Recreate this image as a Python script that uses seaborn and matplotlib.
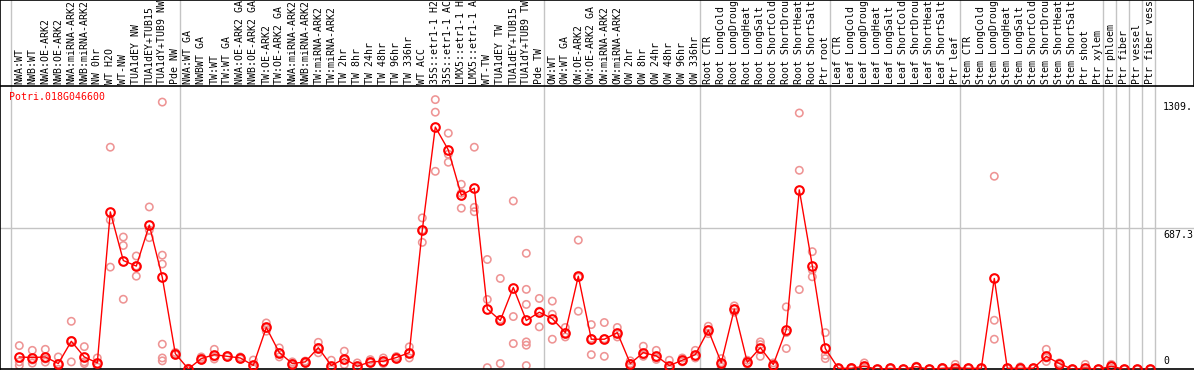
import numpy as np
import pandas as pd
import matplotlib
matplotlib.use("Agg")
import matplotlib.pyplot as plt
import seaborn as sns

gene = "Potri.018G046600"

categories = [
    "NWA:WT", "NWB:WT", "NWA:OE-ARK2", "NWB:OE-ARK2", "NWA:miRNA-ARK2", "NWB:miRNA-ARK2",
    "NW 0hr", "WT H2O", "WT-NW", "TUA1dEY NW", "TUA1dEY+TUB15", "TUA1dY+TUB9 NW", "Pde NW",
    "NWA:WT GA", "NWBWT GA", "TW:WT", "TW:WT GA", "NWA:OE-ARK2 GA", "NWB:OE-ARK2 GA",
    "TW:OE-ARK2", "TW:OE-ARK2 GA", "NWA:miRNA-ARK2", "NWB:miRNA-ARK2", "TW:miRNA-ARK2",
    "TW:miRNA-ARK2", "TW 2hr", "TW 8hr", "TW 24hr", "TW 48hr", "TW 96hr", "TW 336hr",
    "WT ACC", "35S::etr1-1 H2", "35S::etr1-1 AC", "LMX5::etr1-1 H", "LMX5::etr1-1 A",
    "WT-TW", "TUA1dEY TW", "TUA1dEY+TUB15", "TUA1dY+TUB9 TW", "Pde TW",
    "OW:WT", "OW:WT GA", "OW:OE-ARK2", "OW:OE-ARK2 GA", "OW:miRNA-ARK2", "OW:miRNA-ARK2",
    "OW 2hr", "OW 8hr", "OW 24hr", "OW 48hr", "OW 96hr", "OW 336hr",
    "Root CTR", "Root LongCold", "Root LongDroug", "Root LongHeat", "Root LongSalt",
    "Root ShortCold", "Root ShortDrou", "Root ShortHeat", "Root ShortSalt", "Ptr root",
    "Leaf CTR", "Leaf LongCold", "Leaf LongDroug", "Leaf LongHeat", "Leaf LongSalt",
    "Leaf ShortCold", "Leaf ShortDrou", "Leaf ShortHeat", "Leaf ShortSalt", "Ptr leaf",
    "Stem CTR", "Stem LongCold", "Stem LongDroug", "Stem LongHeat", "Stem LongSalt",
    "Stem ShortCold", "Stem ShortDrou", "Stem ShortHeat", "Stem ShortSalt", "Ptr shoot",
    "Ptr xylem", "Ptr phloem", "Ptr fiber", "Ptr vessel", "Ptr fiber vess",
]

means = [
    60, 57, 60, 28, 136, 60, 31, 764, 528, 501, 700, 446, 76,
    2, 52, 71, 63, 55, 19, 203, 81, 28, 36, 105, 18, 52, 15, 36, 39, 57, 81,
    676, 1176, 1065, 845, 879, 293, 237, 397, 237, 277,
    246, 178, 452, 146, 146, 178, 28, 81, 65, 18, 44, 71,
    190, 32, 292, 34, 105, 23, 193, 871, 503, 101,
    5, 5, 15, 0, 5, 0, 13, 0, 5, 7,
    5, 5, 441, 5, 5, 5, 63, 28, 0, 6,
    0, 15, 0, 0, 0,
]

replicates = [
    [115, 36, 19], [92, 45, 30], [97, 50, 35], [60, 25, 0], [233, 140, 36],
    [110, 36, 28], [55, 28, 11], [1078, 725, 496], [642, 601, 340], [550, 501, 452],
    [788, 676, 639], [1297, 554, 511, 122, 55, 41], [82, 75, 70],
    [5, 0, 0], [60, 52, 45], [97, 60, 50], [66, 63, 60], [60, 55, 50], [45, 12, 2],
    [225, 200, 185], [104, 80, 60], [36, 28, 19], [40, 36, 30], [131, 105, 80],
    [44, 10, 0], [88, 45, 23], [31, 10, 5], [47, 36, 31], [55, 35, 28], [62, 57, 52],
    [109, 78, 55],
    [735, 676, 616], [1309, 1248, 961], [1146, 1044, 1005], [898, 855, 782],
    [1078, 786, 765], [533, 339, 8], [441, 242, 28], [817, 256, 125],
    [563, 388, 315, 133, 117, 18], [344, 282, 206],
    [331, 267, 146], [203, 175, 157], [627, 447, 282], [217, 150, 71], [227, 148, 63],
    [203, 175, 157], [41, 28, 15], [112, 70, 63], [92, 55, 48], [44, 10, 0],
    [55, 40, 36], [92, 65, 55],
    [209, 190, 173], [52, 32, 11], [308, 292, 277], [44, 30, 25], [133, 120, 63],
    [31, 20, 15], [303, 178, 101], [1244, 966, 387], [571, 482, 449], [178, 68, 52],
    [5, 5, 3], [8, 5, 2], [31, 10, 5], [0, 0, 0], [6, 5, 3], [0, 0, 0], [15, 12, 10],
    [0, 0, 0], [8, 5, 3], [24, 0, 0],
    [6, 5, 3], [5, 5, 3], [937, 238, 146], [5, 5, 3], [12, 3, 0], [5, 5, 3],
    [97, 55, 38], [31, 28, 15], [0, 0, 0], [24, 0, 0],
    [0, 0, 0], [24, 15, 5], [0, 0, 0], [0, 0, 0], [0, 0, 0],
]

group_starts = [0, 13, 41, 53, 63, 73, 84, 85, 86, 87, 88]
ytick_values = [0, 687.3, 1309]
ytick_labels = ["0", "687.3", "1309."]

# ---------------------------------------------------------------------------
W, H = 1194, 370
fig = plt.figure(figsize=(W / 100, H / 100), dpi=100)

px0, step = 19.3, 13.0
xlo = -px0 / step
xhi = xlo + W / step

hdr_bottom = 86
main_bottom = 369.3
ax = fig.add_axes([0, (H - main_bottom) / H, 1, (main_bottom - hdr_bottom) / H])
hx = fig.add_axes([0, (H - hdr_bottom) / H, 1, hdr_bottom / H - 0.001])

idx = np.arange(len(categories))
mean_df = pd.DataFrame({"x": idx, "value": means})
rep_df = pd.DataFrame(
    [(i, v) for i, reps in enumerate(replicates) for v in reps], columns=["x", "value"]
)

grid_c = "#c4c4c4"
for b in group_starts:
    ax.axvline(b - 0.615, color=grid_c, lw=1.0, zorder=0)
    hx.axvline(b - 0.615, color=grid_c, lw=1.0, zorder=0)
ax.axhline(687.3, color=grid_c, lw=1.0, zorder=0)

sns.scatterplot(data=rep_df, x="x", y="value", ax=ax, marker="o", s=28, legend=False, zorder=2)
coll = ax.collections[-1]
coll.set_facecolor("none")
coll.set_edgecolor("#ee9494")
coll.set_linewidth(1.15)

sns.lineplot(
    data=mean_df, x="x", y="value", ax=ax, sort=False, estimator=None,
    color="#ff0000", lw=1.0, marker="o", markersize=6.2,
    markerfacecolor="none", markeredgecolor="#ff0000", markeredgewidth=1.5, zorder=3,
)

ax.set_xlim(xlo, xhi)
ymax = 687.3 * (main_bottom - hdr_bottom) / (main_bottom - 227.7)
ax.set_ylim(0, ymax)
ax.set_xticks([])
ax.set_yticks([])
ax.set_xlabel("")
ax.set_ylabel("")
for s in ["top", "right"]:
    ax.spines[s].set_visible(False)
for s in ["left", "bottom"]:
    ax.spines[s].set_color("black")
    ax.spines[s].set_linewidth(1.2)

mono = "DejaVu Sans Mono"
fs = 7.1
xlab = (1163 - px0) / step
for v, lab in zip(ytick_values, ytick_labels):
    if v == 0:
        ax.annotate(lab, (xlab, v), xytext=(0, 3), textcoords="offset pixels",
                    ha="left", va="bottom", fontsize=fs, family=mono, color="black")
    else:
        ax.annotate(lab, (xlab, v), xytext=(0, -2), textcoords="offset pixels",
                    ha="left", va="top", fontsize=fs, family=mono, color="black")

fig.text(9.3 / W, (H - 96.7) / H, gene, color="#ff0000", fontsize=fs, family=mono,
         ha="left", va="center")

# header with rotated category names
hx.set_xlim(xlo, xhi)
hx.set_ylim(hdr_bottom, 0)
hx.set_xticks([])
hx.set_yticks([])
for s in hx.spines.values():
    s.set_color("black")
    s.set_linewidth(1.2)
for i, lab in enumerate(categories):
    hx.text(i, 83.6, lab, rotation=90, ha="center", va="bottom", fontsize=fs,
            family=mono, color="black", clip_on=False)

fig.savefig("out.png", dpi=100)
